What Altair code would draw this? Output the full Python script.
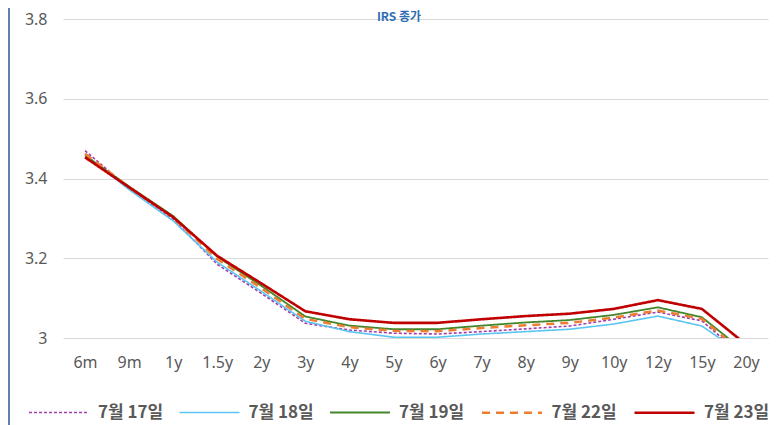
import altair as alt
import pandas as pd

tenors = ["6m", "9m", "1y", "1.5y", "2y", "3y", "4y", "5y", "6y", "7y", "8y", "9y", "10y", "12y", "15y", "20y"]
series_names = ["7월 17일", "7월 18일", "7월 19일", "7월 22일", "7월 23일"]
d0717 = [3.470, 3.375, 3.298, 3.185, 3.112, 3.037, 3.020, 3.012, 3.010, 3.016, 3.023, 3.030, 3.047, 3.065, 3.043, 2.949]
d0718 = [3.460, 3.372, 3.294, 3.190, 3.117, 3.042, 3.016, 3.002, 3.002, 3.010, 3.016, 3.022, 3.035, 3.055, 3.030, 2.954]
d0719 = [3.458, 3.380, 3.306, 3.204, 3.131, 3.054, 3.031, 3.022, 3.022, 3.031, 3.039, 3.045, 3.058, 3.077, 3.052, 2.964]
d0722 = [3.462, 3.378, 3.302, 3.198, 3.125, 3.048, 3.027, 3.018, 3.017, 3.025, 3.032, 3.038, 3.051, 3.069, 3.048, 2.956]
d0723 = [3.453, 3.378, 3.303, 3.206, 3.137, 3.067, 3.047, 3.038, 3.038, 3.047, 3.055, 3.061, 3.073, 3.095, 3.073, 2.984]
y_ticks = [3.0, 3.2, 3.4, 3.6, 3.8]
title_text = ["IRS 종가"]

colors = ["#A33DAE", "#5BC5F2", "#43862A", "#ED7D31", "#C00000"]
dashes = [[3, 2], [1, 0], [1, 0], [8, 6], [1, 0]]
widths = [1.6, 1.6, 1.8, 2.5, 2.6]

rows = []
for name, vals in zip(series_names, [d0717, d0718, d0719, d0722, d0723]):
    for t, v in zip(tenors, vals):
        rows.append({"tenor": t, "rate": v, "series": name})
df = pd.DataFrame(rows)

W, H = 705, 319
PL, PT = 55, 11

lines = alt.Chart(df).mark_line(clip=True).encode(
    x=alt.X("tenor:N", sort=tenors, scale=alt.Scale(type="point", padding=0.5),
            axis=alt.Axis(title=None, labelAngle=0, domain=False, ticks=False, grid=False,
                          labelPadding=16)),
    y=alt.Y("rate:Q", scale=alt.Scale(domain=[3.0, 3.8], nice=False, zero=False),
            axis=alt.Axis(title=None, values=y_ticks, format=".1~f", domain=False, ticks=False,
                          grid=True, labelPadding=16)),
    color=alt.Color("series:N", scale=alt.Scale(domain=series_names, range=colors),
                    legend=alt.Legend(title=None, orient="none", direction="horizontal",
                                      legendX=-35, legendY=362, symbolType="stroke",
                                      symbolSize=3600, labelFont="Noto Sans CJK KR",
                                      labelFontWeight="bold", labelFontSize=17,
                                      labelColor="#595959", columnPadding=11.5, labelOffset=8,
                                      padding=0)),
    strokeDash=alt.StrokeDash("series:N", scale=alt.Scale(type="ordinal", domain=series_names, range=dashes),
                              legend=alt.Legend(title=None)),
    strokeWidth=alt.StrokeWidth("series:N", scale=alt.Scale(type="ordinal", domain=series_names, range=widths),
                                legend=alt.Legend(title=None)),
)

title = alt.Chart(pd.DataFrame({"t": title_text})).mark_text(
    font="Noto Sans CJK KR", fontWeight="bold", fontSize=12, color="#2F6EB5",
    align="center", baseline="alphabetic"
).encode(text="t:N", x=alt.value(336), y=alt.value(2))

border = alt.Chart(pd.DataFrame({"a": [0]})).mark_rule(color="#2F5597", strokeWidth=1.5).encode(
    x=alt.value(-PL + 1), y=alt.value(-PT), y2=alt.value(H + 100)
)

chart = alt.layer(lines, title, border).properties(
    width=W, height=H,
    autosize="none",
    padding={"left": PL, "top": PT, "right": 6, "bottom": 87},
).configure_view(stroke=None).configure_axis(
    labelFont="Noto Sans", labelFontSize=16, labelColor="#595959",
    gridColor="#D9D9D9", gridWidth=1
)

chart.save("out.html", embed_options={"renderer": "svg", "actions": False})
